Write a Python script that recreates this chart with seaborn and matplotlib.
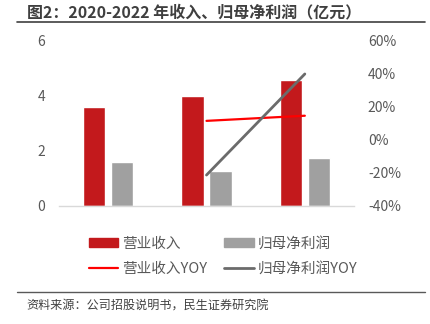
import matplotlib
matplotlib.use("Agg")
import matplotlib.pyplot as plt
import seaborn as sns
import pandas as pd
from matplotlib.lines import Line2D
from matplotlib.patches import Patch

years = ["2020", "2021", "2022"]
revenue = [3.58, 3.98, 4.55]
net_profit = [1.58, 1.24, 1.73]
yoy_years = ["2021", "2022"]
revenue_yoy = [0.112, 0.143]
profit_yoy = [-0.215, 0.395]

left_ticks = [0, 2, 4, 6]
right_ticks = [-0.4, -0.2, 0.0, 0.2, 0.4, 0.6]
right_labels = ["-40%", "-20%", "0%", "20%", "40%", "60%"]

name_rev = "营业收入"
name_np = "归母净利润"
name_rev_yoy = "营业收入YOY"
name_np_yoy = "归母净利润YOY"
title = "图2：2020-2022 年收入、归母净利润（亿元）"
source = "资料来源：公司招股说明书，民生证券研究院"

sns.set_theme(style="white")
plt.rcParams["font.family"] = ["Noto Sans CJK SC", "DejaVu Sans"]

RED = "#C3191C"
GRAY = "#A0A0A0"
LRED = "#FF0000"
DGRAY = "#6B6B6B"
TICK = "#595959"

fig = plt.figure(figsize=(4.31, 3.24), dpi=100)
ax = fig.add_axes([59 / 431, 118.3 / 324, 295 / 431, 165.7 / 324])

bars = pd.DataFrame({
    "year": years * 2,
    "value": revenue + net_profit,
    "series": [name_rev] * len(years) + [name_np] * len(years),
})
sns.barplot(data=bars, x="year", y="value", hue="series", order=years,
            palette=[RED, GRAY], width=0.57, gap=0.21, ax=ax, legend=False,
            saturation=1)

ax.set_ylim(0, 6)
ax.set_yticks(left_ticks)
ax.set_yticklabels([str(t) for t in left_ticks])
ax.set_xlim(-0.5, len(years) - 0.5)
ax.set_xticks([])
ax.set_xlabel("")
ax.set_ylabel("")
for s in ["top", "right", "left"]:
    ax.spines[s].set_visible(False)
ax.spines["bottom"].set_color("#D9D9D9")
ax.spines["bottom"].set_linewidth(1.0)
ax.tick_params(axis="y", length=0, pad=10, labelsize=10, labelcolor=TICK)

ax2 = ax.twinx()
pos = [years.index(y) for y in yoy_years]
lines = pd.DataFrame({"x": pos * 2, "y": revenue_yoy + profit_yoy,
                      "series": [name_rev_yoy] * 2 + [name_np_yoy] * 2})
sns.lineplot(data=lines[lines.series == name_rev_yoy], x="x", y="y",
             color=LRED, linewidth=1.6, ax=ax2, legend=False)
sns.lineplot(data=lines[lines.series == name_np_yoy], x="x", y="y",
             color=DGRAY, linewidth=2.0, ax=ax2, legend=False)
ax2.set_ylim(-0.4, 0.6)
ax2.set_yticks(right_ticks)
ax2.set_yticklabels(right_labels)
ax2.set_xlim(-0.5, len(years) - 0.5)
ax2.set_xlabel("")
ax2.set_ylabel("")
for s in ["top", "right", "left", "bottom"]:
    ax2.spines[s].set_visible(False)
ax2.tick_params(axis="y", length=0, pad=10, labelsize=10, labelcolor=TICK)

handles = [Patch(color=RED), Line2D([], [], color=LRED, lw=1.6),
           Patch(color=GRAY), Line2D([], [], color=DGRAY, lw=2.0)]
labels = [name_rev, name_rev_yoy, name_np, name_np_yoy]
fig.legend(handles, labels, ncol=2, loc="center", bbox_to_anchor=(223 / 431, 1 - 256 / 324),
           frameon=False, fontsize=10.5, handlelength=2.0, handleheight=0.55,
           handletextpad=0.25, columnspacing=1.2, labelspacing=0.75,
           labelcolor="#595959")

fig.text(27 / 431, 1 - 12 / 324, title, fontsize=11.5, fontweight="bold",
         color="#3F3F3F", va="center", ha="left")
fig.add_artist(Line2D([17 / 431, 425 / 431], [1 - 22 / 324] * 2, color="#404040", lw=1.2))
fig.add_artist(Line2D([17 / 431, 425 / 431], [1 - 292 / 324] * 2, color="#595959", lw=1.0))
fig.text(26 / 431, 1 - 306 / 324, source, fontsize=8.7, color="#404040",
         va="center", ha="left")

fig.savefig("out.png", dpi=100)
